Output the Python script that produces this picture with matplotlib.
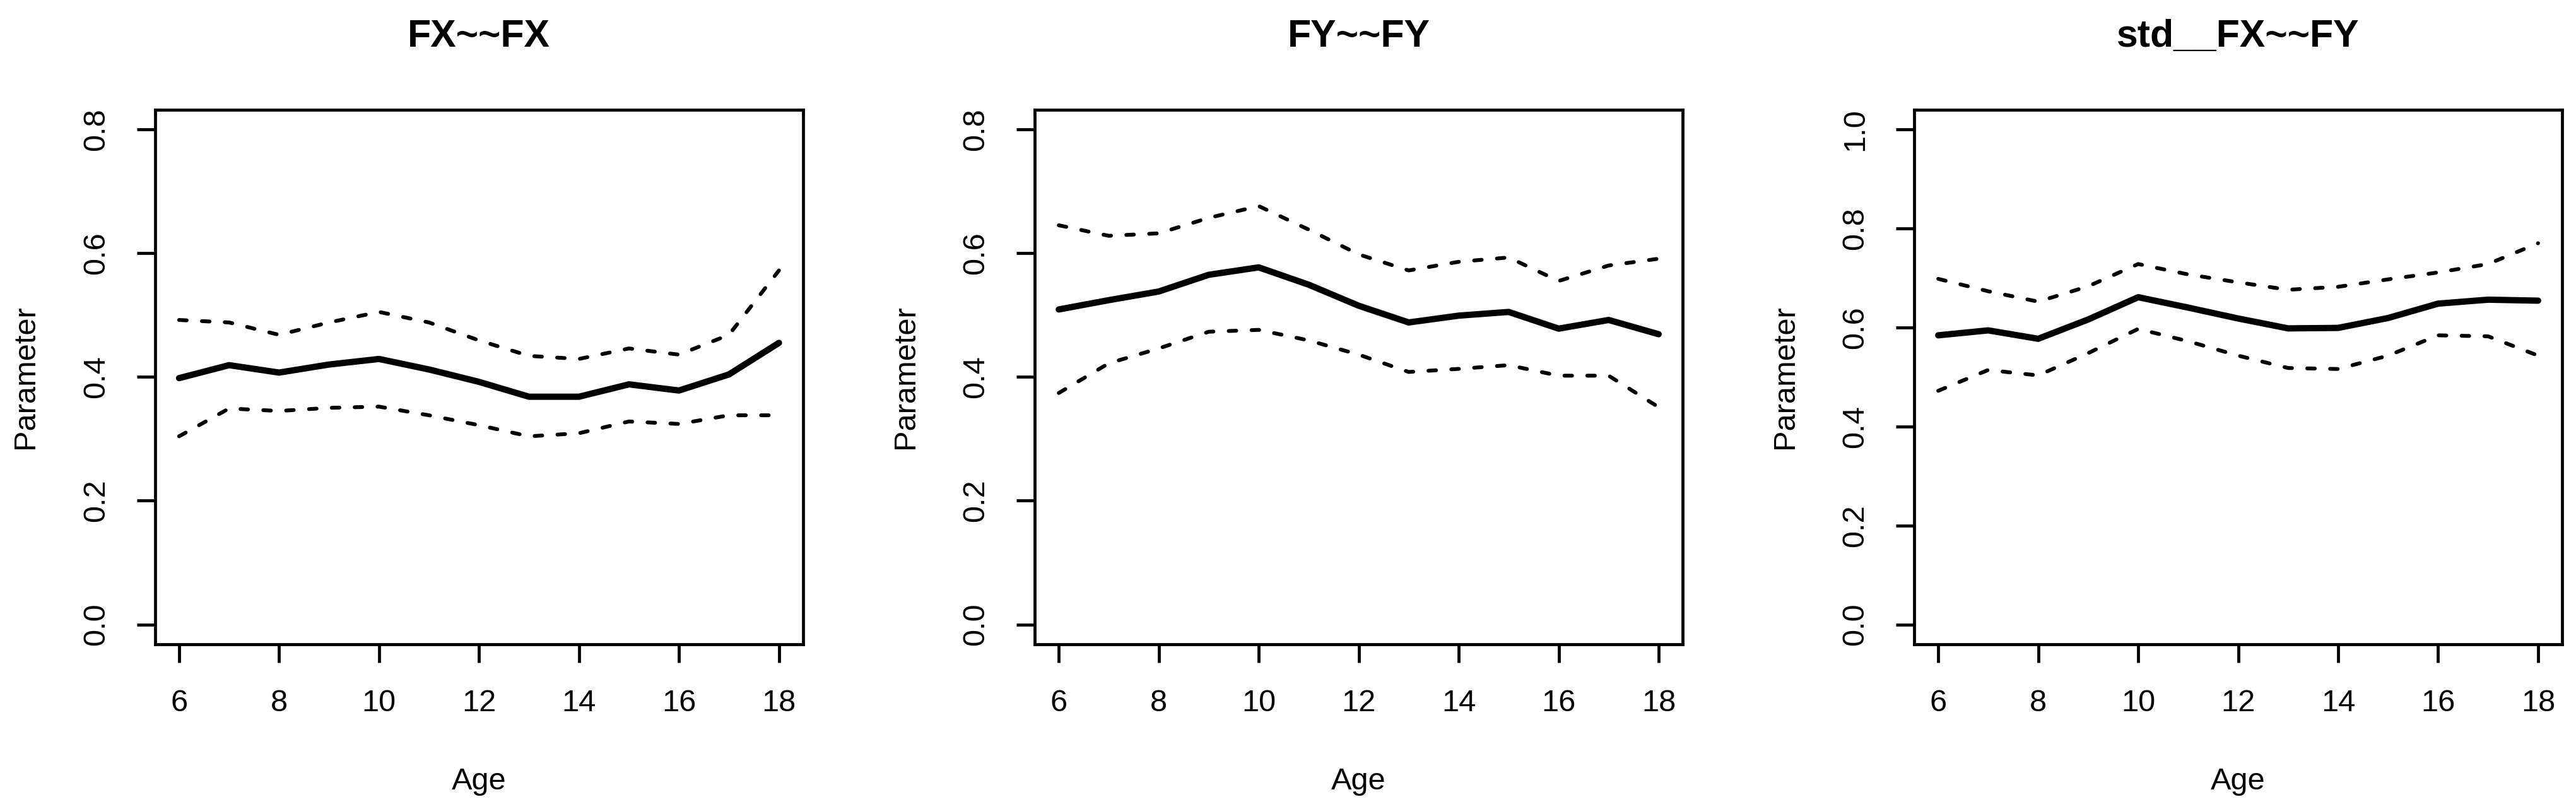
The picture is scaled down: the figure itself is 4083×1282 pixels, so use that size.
import matplotlib
matplotlib.use("Agg")
import matplotlib.pyplot as plt

plt.rcParams.update({
    "font.family": ["Liberation Sans", "DejaVu Sans"],
    "font.size": 11.7,
})

# ── Data ─────────────────────────────────────────────────────────────────────
ages = [6, 7, 8, 9, 10, 11, 12, 13, 14, 15, 16, 17, 18]

titles = ["FX~~FX", "FY~~FY", "std__FX~~FY"]
ytop = [0.8, 0.8, 1.0]

fxfx_est = [0.398, 0.419, 0.407, 0.420, 0.429, 0.412, 0.392, 0.368, 0.368, 0.388, 0.378, 0.404, 0.455]
fxfx_hi  = [0.492, 0.488, 0.468, 0.488, 0.505, 0.488, 0.459, 0.434, 0.429, 0.446, 0.436, 0.468, 0.572]
fxfx_lo  = [0.304, 0.349, 0.345, 0.350, 0.352, 0.338, 0.322, 0.304, 0.309, 0.328, 0.324, 0.338, 0.338]

fyfy_est = [0.509, 0.524, 0.538, 0.565, 0.577, 0.549, 0.515, 0.488, 0.499, 0.505, 0.478, 0.492, 0.469]
fyfy_hi  = [0.645, 0.628, 0.632, 0.657, 0.676, 0.638, 0.598, 0.572, 0.586, 0.593, 0.555, 0.580, 0.591]
fyfy_lo  = [0.374, 0.422, 0.446, 0.473, 0.476, 0.459, 0.436, 0.408, 0.413, 0.419, 0.402, 0.402, 0.351]

std_est = [0.584, 0.594, 0.577, 0.616, 0.661, 0.640, 0.618, 0.598, 0.599, 0.619, 0.648, 0.656, 0.654]
std_hi  = [0.698, 0.673, 0.652, 0.683, 0.728, 0.707, 0.691, 0.676, 0.682, 0.697, 0.711, 0.728, 0.770]
std_lo  = [0.472, 0.514, 0.503, 0.548, 0.597, 0.572, 0.543, 0.518, 0.516, 0.543, 0.584, 0.582, 0.543]

series = [
    (fxfx_est, fxfx_lo, fxfx_hi),
    (fyfy_est, fyfy_lo, fyfy_hi),
    (std_est, std_lo, std_hi),
]

# ── Plot ─────────────────────────────────────────────────────────────────────
fig = plt.figure(figsize=(4083 / 300, 1282 / 300), dpi=300)

lefts = [0.0602, 0.4017, 0.7431]
bottom, width, height = 0.2036, 0.2515, 0.661

for left, title, top, (est, lo, hi) in zip(lefts, titles, ytop, series):
    ax = fig.add_axes([left, bottom, width, height])
    ax.plot(ages, est, color="black", linewidth=2.4,
            solid_capstyle="round", solid_joinstyle="round")
    for band in (lo, hi):
        ax.plot(ages, band, color="black", linewidth=1.45,
                linestyle=(0, (2, 4)), dash_capstyle="round")

    pad_x = (ages[-1] - ages[0]) * 0.04
    ax.set_xlim(ages[0] - pad_x, ages[-1] + pad_x)
    ax.set_ylim(-top * 0.04, top * 1.04)
    ax.set_xticks(range(6, 19, 2))
    yt = [round(v * 0.2, 1) for v in range(int(round(top / 0.2)) + 1)]
    ax.set_yticks(yt)
    ax.set_yticklabels([f"{v:.1f}" for v in yt], rotation=90, va="center")

    for sp in ax.spines.values():
        sp.set_linewidth(1.15)
    ax.tick_params(direction="out", length=7, width=1.15, pad=10)

    ax.set_xlabel("Age", labelpad=19)
    ax.set_ylabel("Parameter", labelpad=16)
    ax.set_title(title, fontsize=14.6, fontweight="bold", pad=24)

fig.savefig("out.png", dpi=300)
